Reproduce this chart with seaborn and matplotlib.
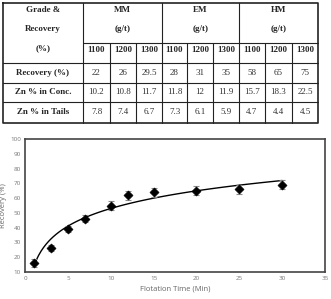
import numpy as np
import pandas as pd
import matplotlib
matplotlib.use("Agg")
import matplotlib.pyplot as plt
import seaborn as sns

# table data
groups = ["MM", "EM", "HM"]
doses = ["1100", "1200", "1300"]
row_labels = ["Recovery (%)", "Zn % in Conc.", "Zn % in Tails"]
recovery_row = ["22", "26", "29.5", "28", "31", "35", "58", "65", "75"]
conc_row = ["10.2", "10.8", "11.7", "11.8", "12", "11.9", "15.7", "18.3", "22.5"]
tails_row = ["7.8", "7.4", "6.7", "7.3", "6.1", "5.9", "4.7", "4.4", "4.5"]

# chart data
time_min = [1, 3, 5, 7, 10, 12, 15, 20, 25, 30]
recovery = [16, 26, 39, 46, 55, 62, 64, 65, 66, 69]
err = [2.5, 2, 2, 2.5, 3, 3, 3, 3, 3, 3]

sns.set_style("white")
fig = plt.figure(figsize=(3.31, 2.99), dpi=100)

# ---- table drawn in pixel coords ----
tab = fig.add_axes([0, 0, 1, 1])
tab.set_xlim(0, 331)
tab.set_ylim(299, 0)
tab.axis("off")

col_x = [3, 83, 110, 136, 162, 187, 213, 239, 265, 292, 318]
row_y = [3, 43, 63, 83, 102, 123]
lc = "#222222"
# outer border
tab.plot([3, 318, 318, 3, 3], [3, 3, 123, 123, 3], color=lc, lw=1.2)
# horizontal lines
tab.plot([83, 318], [43, 43], color=lc, lw=0.8)
for y in row_y[2:5]:
    tab.plot([3, 318], [y, y], color=lc, lw=0.8)
# vertical lines
for i, x in enumerate(col_x[1:-1], start=1):
    top = 3 if i in (1, 4, 7) else 43
    tab.plot([x, x], [top, 123], color=lc, lw=0.8)

serif = "Liberation Serif"
fs = 6.5
tab.text(43, 10, "Grade &", ha="center", va="center", fontsize=fs, fontweight="bold", family=serif)
tab.text(43, 29, "Recovery", ha="center", va="center", fontsize=fs, fontweight="bold", family=serif)
tab.text(43, 48, "(%)", ha="center", va="center", fontsize=fs, fontweight="bold", family=serif)
for g, name in enumerate(groups):
    cx = (col_x[1 + 3 * g] + col_x[4 + 3 * g]) / 2
    tab.text(cx, 10, name, ha="center", va="center", fontsize=fs, fontweight="bold", family=serif)
    tab.text(cx, 29, "(g/t)", ha="center", va="center", fontsize=fs, fontweight="bold", family=serif)
    for d, dose in enumerate(doses):
        c = 1 + 3 * g + d
        tab.text((col_x[c] + col_x[c + 1]) / 2, 50, dose, ha="center", va="center",
                 fontsize=fs, fontweight="bold", family=serif)

for r, (lab, vals) in enumerate(zip(row_labels, [recovery_row, conc_row, tails_row])):
    yc = (row_y[2 + r] + row_y[3 + r]) / 2
    tab.text(43, yc, lab, ha="center", va="center", fontsize=fs, fontweight="bold", family=serif)
    for c, v in enumerate(vals):
        tab.text((col_x[c + 1] + col_x[c + 2]) / 2, yc, v, ha="center", va="center",
                 fontsize=fs, family=serif, color="#333333")

# ---- chart ----
df = pd.DataFrame({"Time": time_min, "Recovery": recovery, "err": err})
ax = fig.add_axes([25 / 331, 1 - 272 / 299, 300 / 331, 133 / 299])

# logarithmic trendline fitted to the data
a, b = np.polyfit(np.log(df["Time"]), df["Recovery"], 1)
fit = pd.DataFrame({"Time": np.linspace(1, 30, 100)})
fit["Recovery"] = a * np.log(fit["Time"]) + b
sns.lineplot(data=fit, x="Time", y="Recovery", color="black", lw=1.0, ax=ax)

ax.errorbar(df["Time"], df["Recovery"], yerr=df["err"], fmt="none",
            ecolor="#888888", elinewidth=0.8, capsize=2, capthick=0.8, zorder=3)
sns.scatterplot(data=df, x="Time", y="Recovery", marker="D", s=22, color="black",
                edgecolor="black", ax=ax, zorder=4)

ax.set_xlim(0, 35)
ax.set_ylim(10, 100)
ax.set_xticks(range(0, 36, 5))
ax.set_yticks(range(10, 101, 10))
tick_font = "Open Sans"
for t in ax.get_xticklabels() + ax.get_yticklabels():
    t.set_fontsize(4.5)
    t.set_color("#777777")
    t.set_family(tick_font)
ax.tick_params(length=0, pad=3)
ax.set_xlabel("Flotation Time (Min)", fontsize=5.5, color="#666666", family=tick_font, labelpad=3)
ax.set_ylabel("Recovery (%)", fontsize=5.5, color="#666666", family=tick_font, labelpad=2)
for s in ax.spines.values():
    s.set_color("#444444")
    s.set_linewidth(1.2)

fig.savefig("out.png", dpi=100)
